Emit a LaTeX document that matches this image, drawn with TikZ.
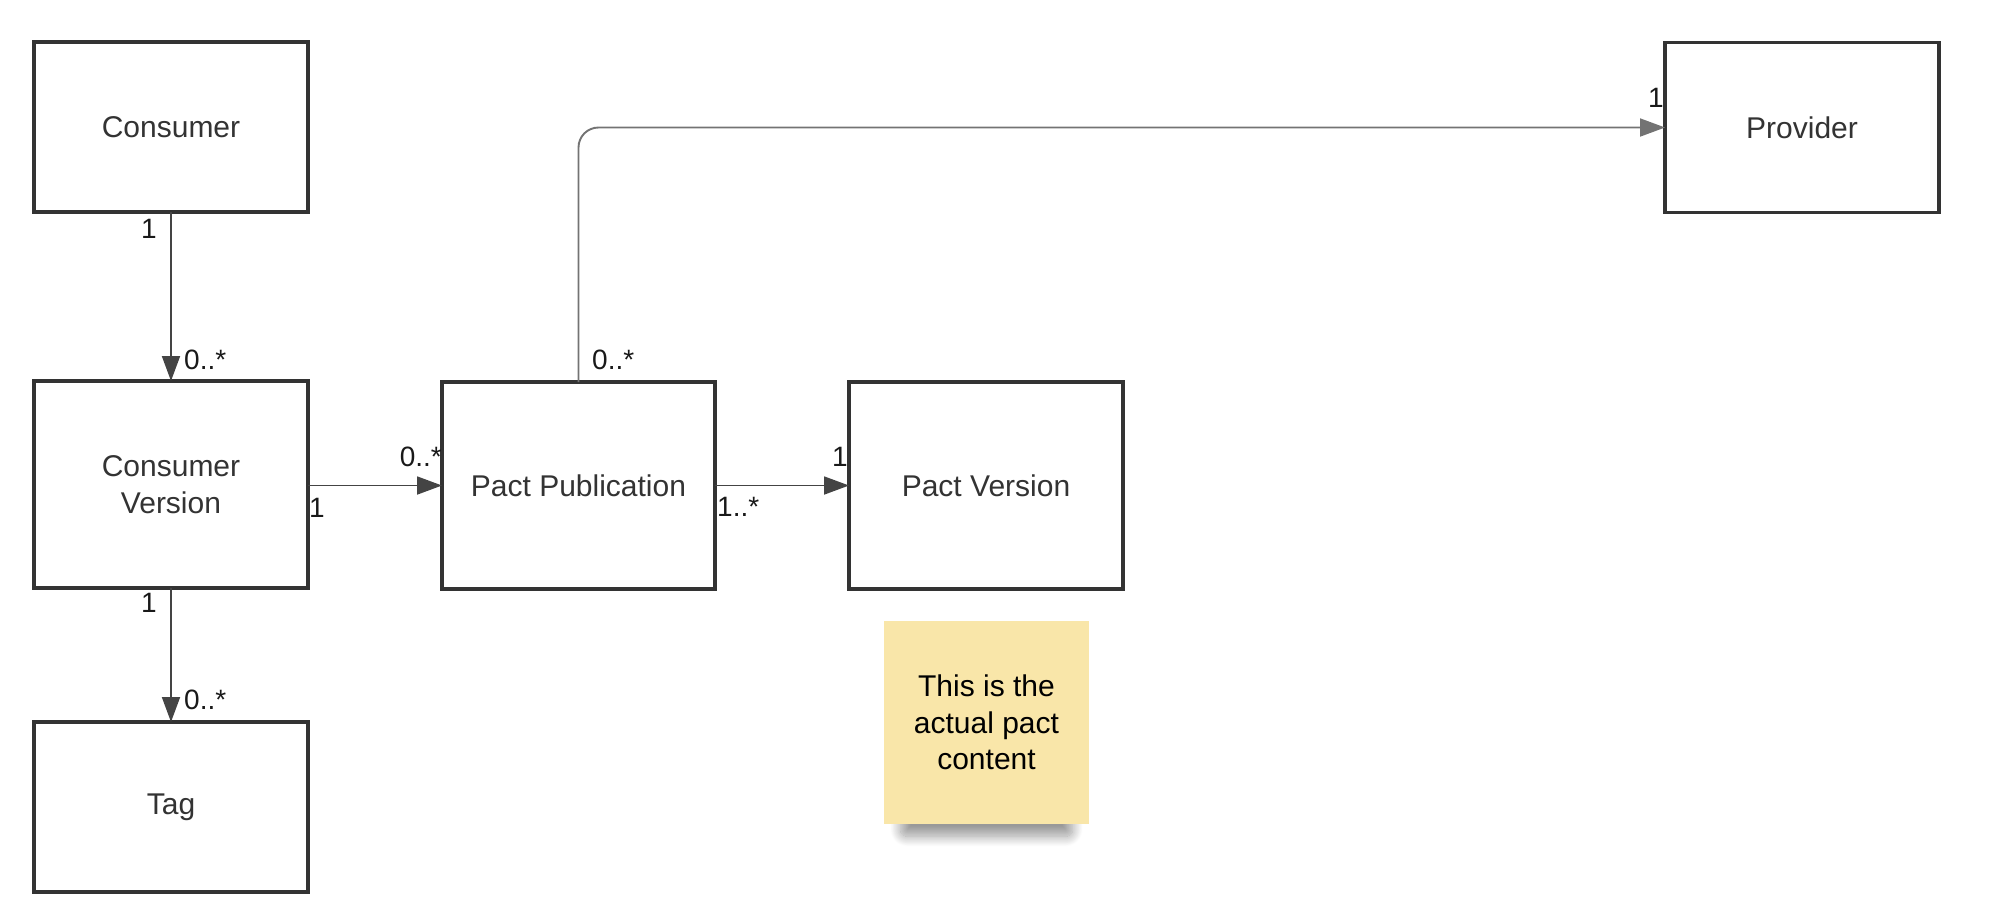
\documentclass[tikz,border=0pt]{standalone}
\usepackage{fontspec}
\setmainfont{Liberation Sans}
\usetikzlibrary{arrows.meta,shadows.blur}
\definecolor{boxline}{HTML}{333333}
\definecolor{boxtext}{HTML}{333333}
\definecolor{connline}{HTML}{444444}
\definecolor{stickyfill}{HTML}{F9E6A9}
\tikzset{
  entity/.style={draw=boxline, line width=3.2pt, fill=white, minimum width=274pt, minimum height=170pt,
    outer sep=0pt, inner sep=0pt, align=center, text=boxtext, font=\fontsize{30}{37}\selectfont},
  conn/.style={draw=connline, line width=1.9pt, -{Triangle[length=25pt,width=18pt]}},
  mult/.style={inner sep=0pt, text=black!90, font=\fontsize{28}{32}\selectfont},
  sticky/.style={fill=stickyfill, minimum width=205pt, minimum height=203pt, inner sep=0pt,
    align=center, text=black, font=\fontsize{30}{36.5}\selectfont,
    blur shadow={shadow xshift=0pt, shadow yshift=-34pt, shadow scale=0.84, shadow opacity=40, shadow blur steps=16, shadow blur radius=12pt, shadow blur extra rounding=8pt}}
}
\begin{document}
\begin{tikzpicture}[x=1pt,y=-1pt]
\useasboundingbox (0,0) rectangle (1992,914);
\node[entity] (cons) at (171,127) {Consumer};
\node[entity, minimum height=207pt] (cv) at (171,484.5) {Consumer\\Version};
\node[entity] (tag) at (171,807) {Tag};
\node[entity, minimum width=273pt, minimum height=207pt] (pp) at (578.5,485.5) {Pact Publication};
\node[entity, minimum height=207pt] (pv) at (986,485.5) {Pact Version};
\node[entity] (prov) at (1802,127.5) {Provider};
\node[sticky] (note) at (986.5,722.5) {This is the\\actual pact\\content};

\draw[conn] (cons.south) -- (cv.north);
\draw[conn] (cv.south) -- (tag.north);
\draw[conn] (cv.east |- pp.west) -- (pp.west);
\draw[conn] (pp.east) -- (pv.west);
\draw[conn, draw=connline!75, rounded corners=20pt] (pp.north) |- (prov.west);

\node[mult] (m1a) at (149,229) {1};
\node[mult, anchor=west] (m1b) at (184,360) {0..*};
\node[mult] (m2a) at (149,603) {1};
\node[mult, anchor=west] (m2b) at (184,700) {0..*};
\node[mult] (m3a) at (317,508) {1};
\node[mult, anchor=east] (m3b) at (442,457) {0..*};
\node[mult, anchor=west] (m4a) at (717,507) {1..*};
\node[mult] (m4b) at (840,457) {1};
\node[mult, anchor=west] (m5a) at (592,360) {0..*};
\node[mult] (m5b) at (1656,98) {1};
\end{tikzpicture}
\end{document}
